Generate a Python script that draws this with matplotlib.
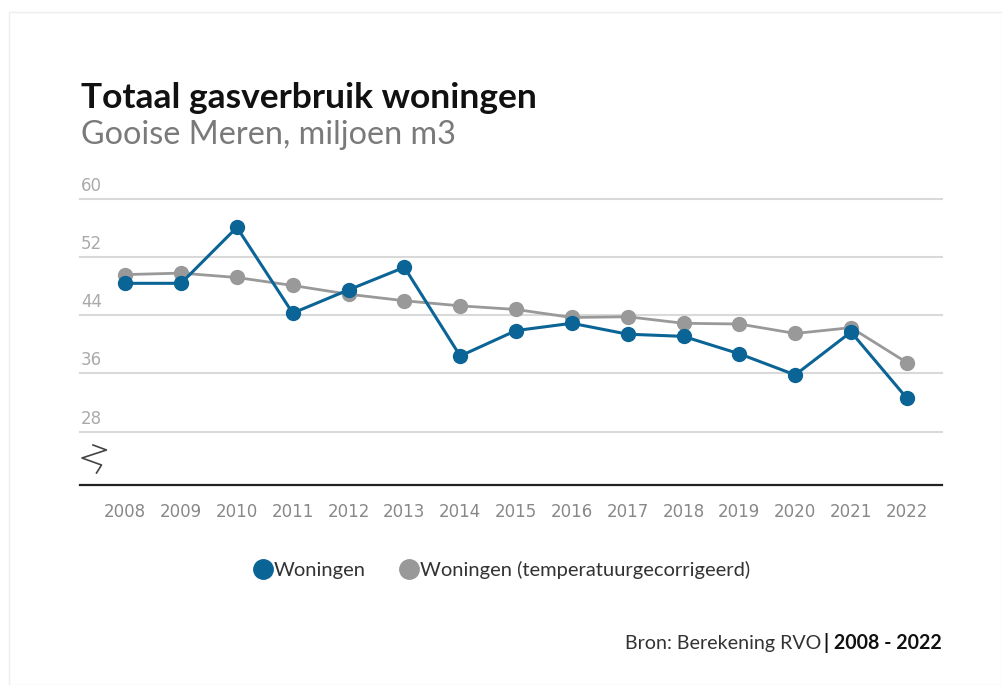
import matplotlib
matplotlib.use("Agg")
import matplotlib.pyplot as plt
from matplotlib.lines import Line2D
from matplotlib.patches import Rectangle
from matplotlib.transforms import blended_transform_factory

years = list(range(2008, 2023))
woningen = [48.4, 48.4, 56.1, 44.3, 47.5, 50.6, 38.4, 41.9, 42.9, 41.4, 41.1, 38.7, 35.8, 41.7, 32.6]
woningen_temp = [49.6, 49.8, 49.2, 48.1, 46.9, 46.0, 45.3, 44.8, 43.7, 43.8, 42.9, 42.8, 41.5, 42.3, 37.5]
yticks = [28, 36, 44, 52, 60]
series_labels = ["Woningen", "Woningen (temperatuurgecorrigeerd)"]

BLUE = "#0b6496"
GRAY = "#999999"
W, H = 1002, 685

fig = plt.figure(figsize=(W / 100, H / 100), dpi=100)
fig.patch.set_facecolor("white")
fig.patches.append(Rectangle((9 / W, 0), (W - 9) / W, 1 - 12 / H, transform=fig.transFigure,
                             fill=False, edgecolor="#eeeeee", linewidth=1))

ax = fig.add_axes([80 / W, 1 - 485 / H, (942 - 80) / W, (485 - 199) / H])
ax.set_xlim(2007.19, 2022.63)
ax.set_ylim(20.65, 60)

ytrans = blended_transform_factory(fig.transFigure, ax.transData)
for v in yticks:
    ax.axhline(v, color="#d9d9d9", linewidth=1.5, zorder=1, clip_on=False)
    fig.text(81 / W, v + 0.55, str(v), transform=ytrans, ha="left", va="bottom",
             fontsize=12, color="#aaaaaa", family="DejaVu Sans")

ax.plot(years, woningen_temp, color=GRAY, linewidth=2, marker="o", markersize=10,
        zorder=3, clip_on=False)
ax.plot(years, woningen, color=BLUE, linewidth=2.2, marker="o", markersize=10,
        zorder=4, clip_on=False)

for s in ["top", "right", "left"]:
    ax.spines[s].set_visible(False)
ax.spines["bottom"].set_color("#222222")
ax.spines["bottom"].set_linewidth(1.6)
ax.set_yticks([])
ax.set_xticks(years)
ax.set_xticklabels([str(y) for y in years], fontsize=12, color="#888888", family="DejaVu Sans")
ax.tick_params(axis="x", length=0, pad=13)

# axis break symbol
bx = [93, 106.5, 82, 101.5, 96.5]
by = [445, 450, 458, 465, 473]
fig.add_artist(Line2D([x / W for x in bx], [1 - y / H for y in by], transform=fig.transFigure,
                      color="#444444", linewidth=1.2))

fig.text(81 / W, 1 - 98 / H, "Totaal gasverbruik woningen", fontsize=25.5, fontweight="bold",
         color="#111111", family="Lato", va="center", ha="left")
fig.text(81 / W, 1 - 135 / H, "Gooise Meren, miljoen m3", fontsize=23.3, color="#7a7a7a",
         family="Lato", va="center", ha="left")

handles = [Line2D([], [], linestyle="none", marker="o", markersize=14, color=BLUE),
           Line2D([], [], linestyle="none", marker="o", markersize=14, color=GRAY)]
fig.legend(handles, series_labels, loc="center", bbox_to_anchor=(501 / W, 1 - 570 / H), ncol=2,
           frameon=False, handletextpad=0.0, columnspacing=1.6, handlelength=1.1,
           prop={"family": "Lato", "size": 14.5}, labelcolor="#333333")

fig.canvas.draw()
r = fig.canvas.get_renderer()
tb = fig.text(942 / W, 1 - 643 / H, "| 2008 - 2022", fontsize=14.1, fontweight="bold",
              color="#111111", family="Lato", ha="right", va="center")
bb = tb.get_window_extent(r)
fig.text(bb.x0 / W - 3 / W, 1 - 643 / H, "Bron: Berekening RVO", fontsize=14.1, color="#333333",
         family="Lato", ha="right", va="center")

fig.savefig("out.png", dpi=100, facecolor="white")
